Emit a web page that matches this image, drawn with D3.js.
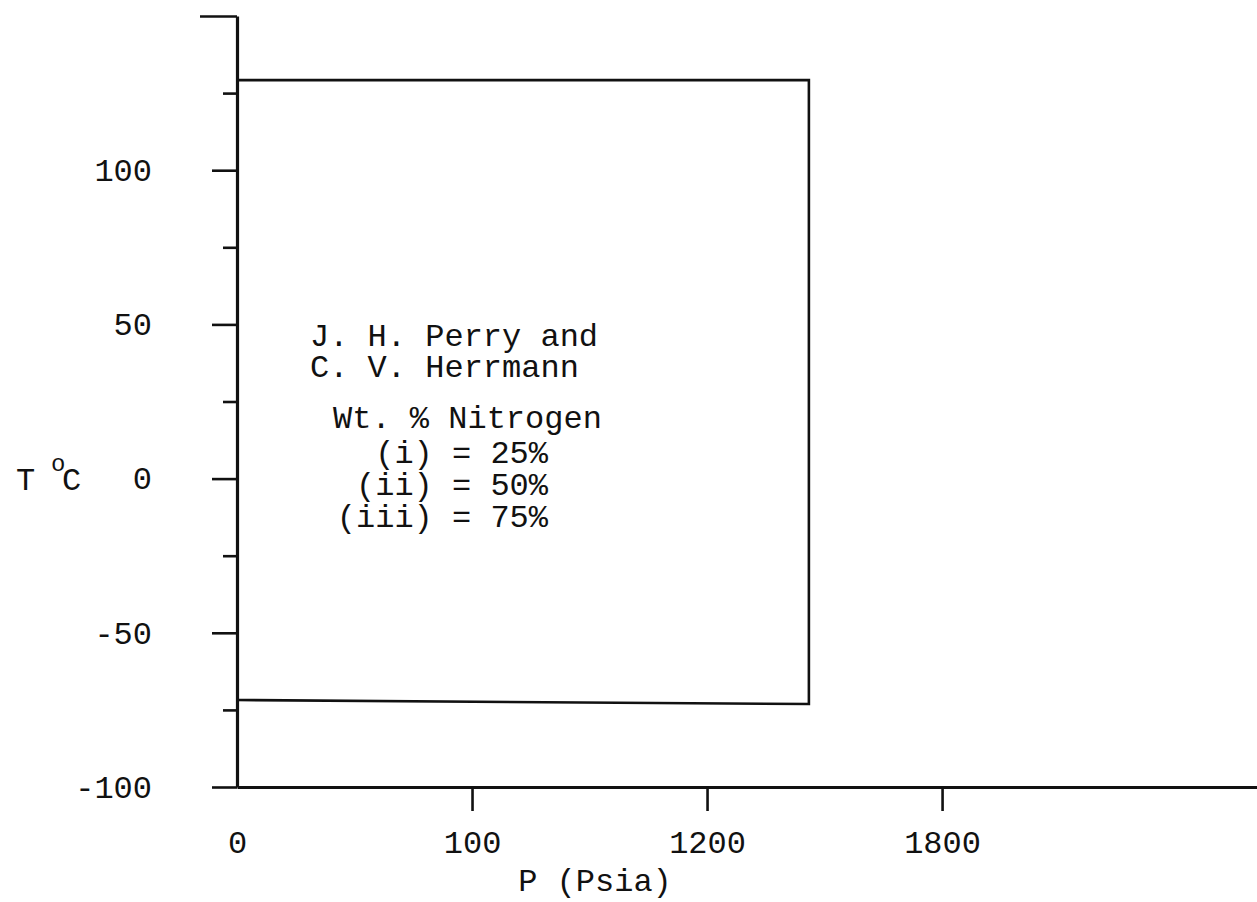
<!DOCTYPE html>
<html>
<head>
<meta charset="utf-8">
<script src="https://cdn.jsdelivr.net/npm/d3@7"></script>
<style>
  html, body { margin: 0; padding: 0; background: #fff; }
  svg { display: block; }
  text { font-family: "Liberation Mono", "DejaVu Sans Mono", monospace; fill: #111; }
</style>
</head>
<body>
<svg id="chart" width="1257" height="902"></svg>
<script>
// ---- data ----
const yMajorTicks = [-100, -50, 0, 50, 100];
const yMajorLabels = ["-100", "-50", "0", "50", "100"];
const yMinorTicks = [-75, -25, 25, 75, 125];
const yTopTick = [150];
const xTicks = [0, 600, 1200, 1800];
const xTickLabels = ["0", "100", "1200", "1800"];
// boundary of the plotted region (P in psia, T in °C)
const boundaryP = [0, 1460, 1460, 0];
const boundaryT = [-71.8, -73.1, 129.2, 129.2];
const authorLines = ["J. H. Perry and", "C. V. Herrmann"];
const compositionHeader = "Wt. % Nitrogen";
const compositionLines = ["(i) = 25%", "(ii) = 50%", "(iii) = 75%"];
const xTitle = "P (Psia)";

// ---- drawing ----
const svg = d3.select("#chart");
const x = d3.scaleLinear().domain([0, 2604]).range([237, 1257]);
const y = d3.scaleLinear().domain([-100, 150]).range([787, 16]);
const FS = 32;

// boundary polyline
const pts = boundaryP.map((p, i) => [x(p), y(boundaryT[i])]);
svg.append("path")
  .attr("d", d3.line()(pts))
  .attr("fill", "none").attr("stroke", "#111")
  .attr("stroke-width", 2.6).attr("stroke-linejoin", "miter");

// y axis (major)
const gY = svg.append("g").attr("transform", `translate(${x(0)},0)`)
  .call(d3.axisLeft(y).tickValues(yMajorTicks)
    .tickFormat((d, i) => yMajorLabels[i])
    .tickSize(25).tickSizeOuter(0).tickPadding(60));
gY.select(".domain").attr("stroke", "#111").attr("stroke-width", 3.2);
gY.selectAll(".tick line").attr("stroke", "#111").attr("stroke-width", 2.6);
gY.selectAll(".tick text").attr("font-size", FS).attr("font-family", "Liberation Mono").attr("fill", "#111");

// y minor ticks
const gYm = svg.append("g").attr("transform", `translate(${x(0)},0)`)
  .call(d3.axisLeft(y).tickValues(yMinorTicks).tickFormat("").tickSize(14).tickSizeOuter(0));
gYm.select(".domain").remove();
gYm.selectAll(".tick line").attr("stroke", "#111").attr("stroke-width", 2.6);

// top tick
const gYt = svg.append("g").attr("transform", `translate(${x(0)},0)`)
  .call(d3.axisLeft(y).tickValues(yTopTick).tickFormat("").tickSize(37).tickSizeOuter(0));
gYt.select(".domain").remove();
gYt.selectAll(".tick line").attr("stroke", "#111").attr("stroke-width", 2.6);

// x axis
const gX = svg.append("g").attr("transform", `translate(0,${y(-100)})`)
  .call(d3.axisBottom(x).tickValues(xTicks)
    .tickFormat((d, i) => xTickLabels[i])
    .tickSize(24).tickSizeOuter(0).tickPadding(19));
gX.select(".domain").attr("stroke", "#111").attr("stroke-width", 3.2);
gX.selectAll(".tick line").attr("stroke", "#111").attr("stroke-width", 2.6)
  .filter(d => d === 0).remove();
gX.selectAll(".tick text").attr("font-size", FS).attr("font-family", "Liberation Mono").attr("fill", "#111");

// axis titles
svg.append("text").attr("x", 595).attr("y", 891).attr("text-anchor", "middle")
  .attr("font-size", FS).text(xTitle);
svg.append("text").attr("x", 16).attr("y", 490).attr("font-size", FS).text("T");
svg.append("text").attr("x", 51).attr("y", 471).attr("font-size", 24).text("o");
svg.append("text").attr("x", 62).attr("y", 490).attr("font-size", FS).text("C");

// annotation text
svg.selectAll("text.author").data(authorLines).enter().append("text")
  .attr("class", "author").attr("x", 310).attr("y", (d, i) => 346 + i * 31)
  .attr("font-size", FS).attr("xml:space", "preserve").text(d => d);
svg.append("text").attr("x", 333).attr("y", 428).attr("font-size", FS)
  .attr("xml:space", "preserve").text(compositionHeader);
svg.selectAll("text.comp").data(compositionLines).enter().append("text")
  .attr("class", "comp").attr("x", 548).attr("y", (d, i) => 463 + i * 32)
  .attr("text-anchor", "end").attr("font-size", FS)
  .attr("xml:space", "preserve").text(d => d);
</script>
</body>
</html>
